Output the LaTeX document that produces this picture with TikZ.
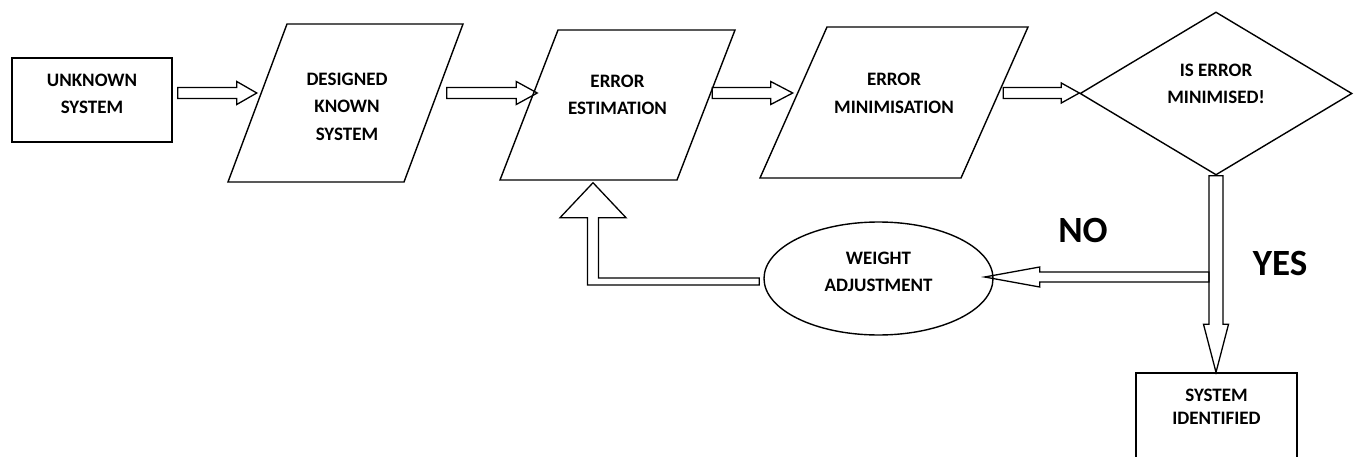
\documentclass[tikz,border=0pt]{standalone}
\usepackage{fontspec}
\setmainfont{Carlito}
\usetikzlibrary{shapes.geometric,calc}
\newcommand\harr[5]{\draw[arr] let \p1=(#1), \p2=(#2), \n1={sign(\x2-\x1)} in
 (\x1,{\y1+#3}) -- ({\x2-(\n1)*#5},{\y1+#3}) -- ({\x2-(\n1)*#5},{\y1+#4}) -- (\x2,\y1)
 -- ({\x2-(\n1)*#5},{\y1-#4}) -- ({\x2-(\n1)*#5},{\y1-#3}) -- (\x1,{\y1-#3}) -- cycle;}
\newcommand\varr[5]{\draw[arr] let \p1=(#1), \p2=(#2), \n1={sign(\y2-\y1)} in
 ({\x1+#3},\y1) -- ({\x1+#3},{\y2-(\n1)*#5}) -- ({\x1+#4},{\y2-(\n1)*#5}) -- (\x1,\y2)
 -- ({\x1-#4},{\y2-(\n1)*#5}) -- ({\x1-#3},{\y2-(\n1)*#5}) -- ({\x1-#3},\y1) -- cycle;}
\begin{document}
\begin{tikzpicture}[x=1pt,y=-1pt,
  shp/.style={draw, line width=1.4pt, inner sep=0pt},
  lbl/.style={font=\bfseries\fontsize{19}{27.5}\selectfont, align=center, inner sep=0pt},
  big/.style={font=\bfseries\fontsize{37}{40}\selectfont, inner sep=0pt},
  arr/.style={draw, line width=1.3pt, line join=miter},
  para/.style n args={4}{shp, trapezium, trapezium left angle=#1, trapezium right angle=#2,
     text width=#3, text height=#4, text depth=#4}
]
\clip (0,0) rectangle (1356,457);
\coordinate (row) at (0,93);
% nodes
\node[shp, rectangle, minimum width=160, minimum height=84,
  label={[lbl, yshift=6pt]center:{UNKNOWN\\SYSTEM}}] (u) at (92,100) {};
\node[para={69.52}{110.48}{117pt}{79pt},
  label={[lbl, xshift=1.5pt, yshift=-3.5pt]center:{DESIGNED\\KNOWN\\SYSTEM}}] (d) at (345.5,103) {};
\node[para={68.86}{111.14}{119pt}{75pt},
  label={[lbl, yshift=10pt]center:{ERROR\\ESTIMATION}}] (e) at (617.5,105) {};
\node[para={66.07}{113.93}{134pt}{75.5pt},
  label={[lbl, yshift=9pt]center:{ERROR\\MINIMISATION}}] (m) at (894,102.5) {};
\node[shp, diamond, minimum width=272, minimum height=163,
  label={[lbl, yshift=9.5pt]center:{IS ERROR\\MINIMISED!}}] (q) at (1216,93.5) {};
\node[shp, ellipse, minimum width=229, minimum height=113,
  label={[lbl, yshift=6.5pt]center:{WEIGHT\\ADJUSTMENT}}] (w) at (878.5,278.5) {};
\node[shp, rectangle, minimum width=161, minimum height=100,
  label={[lbl, font=\bfseries\fontsize{19}{23}\selectfont, yshift=16.5pt]center:{SYSTEM\\IDENTIFIED}}] (s) at (1216.5,423) {};
\node[big] (no) at (1083,230) {NO};
\node[big] (yes) at (1280,263) {YES};
% connectors
\harr{$(u.east |- row)+(5,0)$}{d.west |- row}{5.5}{11.5}{20}
\harr{$(d.east |- row)+(12.5,0)$}{$(e.west |- row)+(9,0)$}{5.5}{11.5}{21}
\harr{$(e.east |- row)+(5.5,0)$}{m.west |- row}{5.5}{11.5}{22}
\harr{$(m.east |- row)+(8,0)$}{q.west |- row}{5.5}{10}{18}
\harr{$(q.south |- w.east)+(-7,-1.5)$}{$(w.east)+(-9,-1.5)$}{5}{10}{55}
\varr{q.south}{s.north}{7}{12.5}{48}
\draw[arr] let \p1=($(w.west)+(-4,3)$), \p2=($(e.south)+(-24.5,2)$) in
  (\x1,{\y1+3.5}) -- ({\x2+5.5},{\y1+3.5}) -- ({\x2+5.5},{\y2-35}) -- ({\x2+33},{\y2-35})
  -- (\x2,\y2) -- ({\x2-33},{\y2-35}) -- ({\x2-5.5},{\y2-35}) -- ({\x2-5.5},{\y1-3.5})
  -- (\x1,{\y1-3.5}) -- cycle;
\end{tikzpicture}
\end{document}
